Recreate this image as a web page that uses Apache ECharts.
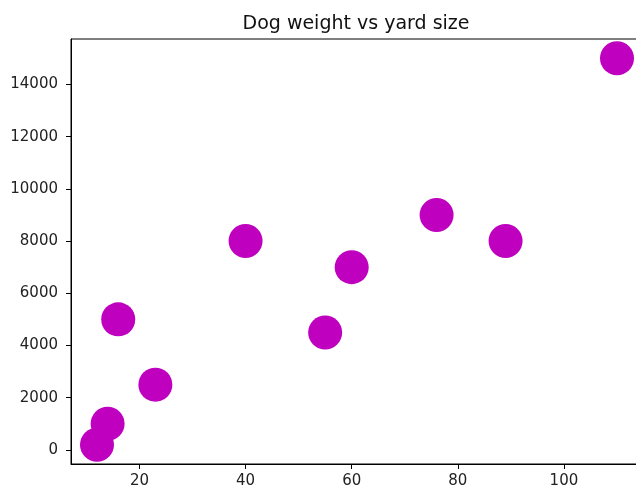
<!DOCTYPE html>
<html>
<head>
<meta charset="utf-8">
<script src="https://cdn.jsdelivr.net/npm/echarts@6/dist/echarts.min.js"></script>
<style>
  html, body { margin: 0; padding: 0; background: #fff; overflow: hidden; width: 636px; height: 491px; }
  /* the plot frame runs past the right edge of the window, so the canvas is wider */
  #chart { width: 660px; height: 491px; }
</style>
</head>
<body>
<div id="chart"></div>
<script>
// Yard size (x) and dog weight (y)
const yardSize  = [12, 14, 16, 23, 40, 55, 60, 76, 89, 110];
const dogWeight = [200, 1000, 5000, 2500, 8000, 4500, 7000, 9000, 8000, 15000];
const xTicks = [20, 40, 60, 80, 100];
const yTicks = [0, 2000, 4000, 6000, 8000, 10000, 12000, 14000];

// axis limits padded by 5% of the data span on each side
function padded(vals) {
  const lo = Math.min(...vals), hi = Math.max(...vals);
  const m = (hi - lo) * 0.05;
  return [lo - m, hi + m];
}
const [xMin, xMax] = padded(yardSize);
const [yMin, yMax] = padded(dogWeight);

const font = 'DejaVu Sans';
const chart = echarts.init(document.getElementById('chart'), null, { renderer: 'canvas' });

const axisCommon = {
  axisLine: { show: true, onZero: false, lineStyle: { color: '#000', width: 1 } },
  axisTick: { show: true, length: 5, lineStyle: { color: '#000', width: 1 } },
  splitLine: { show: false },
  axisLabel: { color: '#222', fontFamily: font, fontSize: 15, margin: 13, formatter: v => String(v) }
};

chart.setOption({
  animation: false,
  backgroundColor: '#fff',
  title: {
    text: 'Dog weight vs yard size',
    left: 351,
    textAlign: 'center',
    top: 10,
    textStyle: { fontFamily: font, fontSize: 19, fontWeight: 'normal', color: '#111' }
  },
  grid: {
    left: 71, top: 39, width: 572, height: 425,
    show: true, borderColor: '#000', borderWidth: 1, backgroundColor: 'transparent'
  },
  xAxis: Object.assign({}, axisCommon, {
    type: 'value', min: xMin, max: xMax,
    axisTick: Object.assign({}, axisCommon.axisTick, { customValues: xTicks }),
    axisLabel: Object.assign({}, axisCommon.axisLabel, { customValues: xTicks, margin: 10 })
  }),
  yAxis: Object.assign({}, axisCommon, {
    type: 'value', min: yMin, max: yMax,
    axisTick: Object.assign({}, axisCommon.axisTick, { customValues: yTicks }),
    axisLabel: Object.assign({}, axisCommon.axisLabel, { customValues: yTicks })
  }),
  series: [{
    type: 'scatter',
    data: yardSize.map((x, i) => [x, dogWeight[i]]),
    symbol: 'circle',
    symbolSize: 34,
    itemStyle: { color: '#bf00bf', opacity: 1 }
  }]
});
</script>
</body>
</html>
